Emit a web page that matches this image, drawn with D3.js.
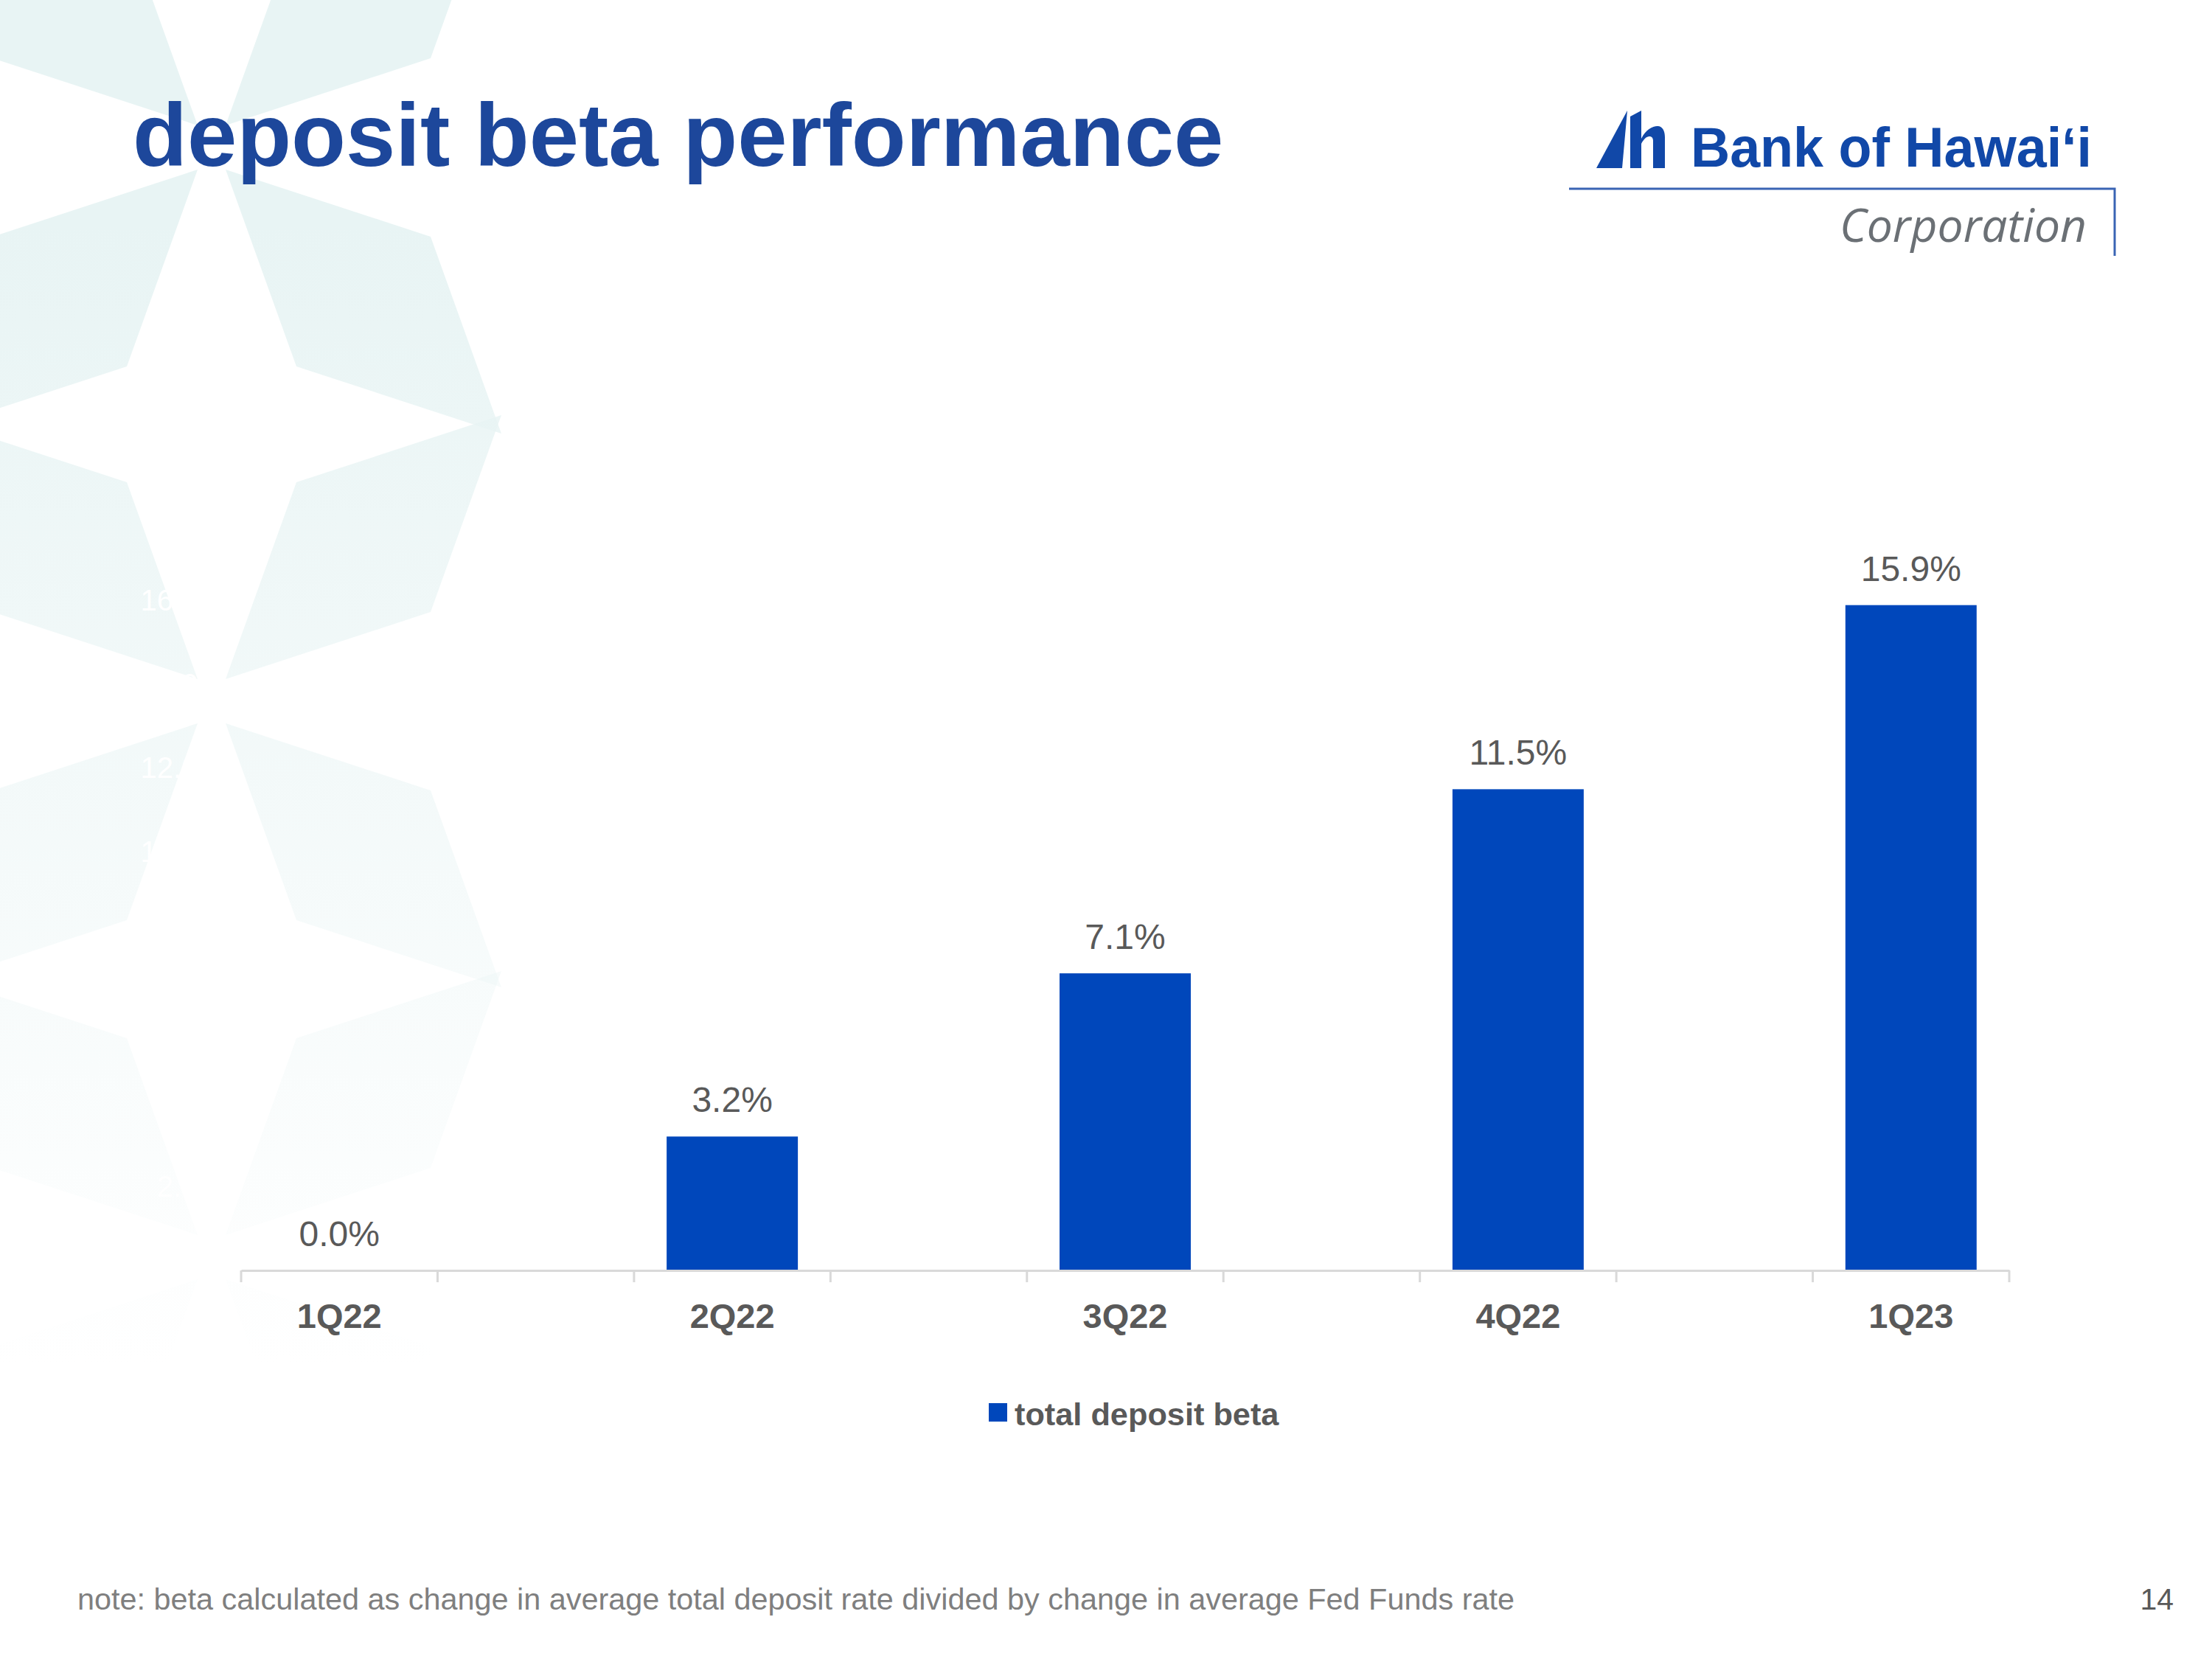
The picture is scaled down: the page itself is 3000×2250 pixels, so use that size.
<!DOCTYPE html>
<html>
<head>
<meta charset="utf-8">
<script src="https://cdn.jsdelivr.net/npm/d3@7"></script>
<style>
  body { margin: 0; background: #ffffff; }
  svg { display: block; font-family: "Liberation Sans", Arial, sans-serif; }
</style>
</head>
<body>
<div id="chart"></div>
<script>
// chart data
var categories = ["1Q22", "2Q22", "3Q22", "4Q22", "1Q23"];
var betaValues = [0.0, 3.2, 7.1, 11.5, 15.9];
var yTickValues = [0, 2, 4, 6, 8, 10, 12, 14, 16];
var seriesName = "total deposit beta";

var W = 3000, H = 2250;
var svg = d3.select("#chart").append("svg")
	.attr("width", W)
	.attr("height", H);

// faint star pattern in the background, fading towards the bottom
var defs = svg.append("defs");
var grad = defs.append("linearGradient")
	.attr("id", "fade")
	.attr("gradientUnits", "userSpaceOnUse")
	.attr("x1", 0).attr("y1", 300)
	.attr("x2", 0).attr("y2", 1850);
grad.append("stop").attr("offset", 0).attr("stop-color", "#e8f4f4").attr("stop-opacity", 1);
grad.append("stop").attr("offset", 1).attr("stop-color", "#e8f4f4").attr("stop-opacity", 0);

var starCenters = [[287, 200], [287, 951], [287, 1705]];
var petals = [];
starCenters.forEach(function(c) {
	[-1, 1].forEach(function(sx) {
		[-1, 1].forEach(function(sy) {
			var p0 = [c[0] + sx * 19, c[1] + sy * 30];
			petals.push([
				p0,
				[p0[0] + sx * 278, p0[1] + sy * 91],
				[p0[0] + sx * 374, p0[1] + sy * 358],
				[p0[0] + sx * 96, p0[1] + sy * 267]
			]);
		});
	});
});
svg.append("g").selectAll("polygon")
	.data(petals)
	.enter()
	.append("polygon")
	.attr("points", function(d) { return d.map(function(p) { return p.join(","); }).join(" "); })
	.attr("fill", "url(#fade)");

// title
svg.append("text")
	.attr("x", 180)
	.attr("y", 225)
	.attr("font-size", 121)
	.attr("font-weight", "bold")
	.attr("fill", "#1d479b")
	.text("deposit beta performance");

// logo
var logo = svg.append("g");
logo.append("path")
	.attr("d", "M2165,228 L2200,228 L2207,150 Z")
	.attr("fill", "#1148a8");
logo.append("path")
	.attr("d", "M2211,228 L2211,158 L2226,150 L2226,228 Z")
	.attr("fill", "#1148a8");
logo.append("path")
	.attr("d", "M2226,188 C2232,176 2241,171 2248,171 C2255,171 2258,178 2258,186 L2258,228 L2242,228 L2242,191 C2242,187 2240,185 2237,185 C2233,185 2229,189 2226,195 Z")
	.attr("fill", "#1148a8");
logo.append("text")
	.attr("x", 2293)
	.attr("y", 226)
	.attr("font-size", 76)
	.attr("font-weight", "bold")
	.attr("textLength", 544)
	.attr("lengthAdjust", "spacingAndGlyphs")
	.attr("fill", "#1148a8")
	.text("Bank of Hawai\u2018i");
logo.append("path")
	.attr("d", "M2128,256 L2868,256 L2868,347")
	.attr("fill", "none")
	.attr("stroke", "#3a64b4")
	.attr("stroke-width", 3);
logo.append("text")
	.attr("x", 2495)
	.attr("y", 328)
	.attr("font-family", "'Open Sans', sans-serif")
	.attr("font-style", "italic")
	.attr("font-size", 63)
	.attr("textLength", 335)
	.attr("lengthAdjust", "spacingAndGlyphs")
	.attr("fill", "#6b7075")
	.text("Corporation");

// scales
var axisY = 1723;
var x = d3.scaleBand()
	.domain(categories)
	.range([327, 2725])
	.paddingInner(0.5)
	.paddingOuter(0);
var y = d3.scaleLinear()
	.domain([0, 16])
	.range([axisY, 815]);

// hidden (white) value axis labels
var yAxis = svg.append("g")
	.attr("transform", "translate(327,0)")
	.call(d3.axisLeft(y).tickValues(yTickValues).tickSize(0).tickPadding(23)
		.tickFormat(function(d) { return d.toFixed(1) + "%"; }));
yAxis.select(".domain").remove();
yAxis.selectAll("text")
	.attr("font-size", 40)
	.attr("font-family", "'Liberation Sans', Arial, sans-serif")
	.attr("fill", "#ffffff");

// bars
var barW = x.bandwidth() * 0.668;
svg.append("g").selectAll("rect")
	.data(betaValues)
	.enter()
	.append("rect")
	.attr("x", function(d, i) { return x(categories[i]) + x.bandwidth() / 2 - barW / 2; })
	.attr("y", function(d) { return y(d); })
	.attr("width", barW)
	.attr("height", function(d) { return axisY - y(d); })
	.attr("fill", "#0047bb");

// value labels
svg.append("g").selectAll("text")
	.data(betaValues)
	.enter()
	.append("text")
	.attr("x", function(d, i) { return x(categories[i]) + x.bandwidth() / 2; })
	.attr("y", function(d) { return y(d) - 33; })
	.attr("text-anchor", "middle")
	.attr("font-size", 48)
	.attr("fill", "#595959")
	.text(function(d) { return d.toFixed(1) + "%"; });

// category axis
var xAxis = svg.append("g")
	.attr("transform", "translate(0," + axisY + ")")
	.call(d3.axisBottom(x).tickSizeInner(0).tickSizeOuter(0));
xAxis.select(".domain")
	.attr("stroke", "#d9d9d9")
	.attr("stroke-width", 3);
xAxis.selectAll(".tick line").remove();
xAxis.selectAll("text")
	.attr("dy", null)
	.attr("y", 78)
	.attr("font-size", 47)
	.attr("font-weight", "bold")
	.attr("font-family", "'Liberation Sans', Arial, sans-serif")
	.attr("fill", "#595959");

var edges = [];
categories.forEach(function(c) {
	edges.push(x(c));
	edges.push(x(c) + x.bandwidth());
});
xAxis.selectAll("line.edge")
	.data(edges)
	.enter()
	.append("line")
	.attr("class", "edge")
	.attr("x1", function(d) { return d; })
	.attr("x2", function(d) { return d; })
	.attr("y1", 0)
	.attr("y2", 16)
	.attr("stroke", "#d9d9d9")
	.attr("stroke-width", 3);

// legend
var legend = svg.append("g");
legend.append("rect")
	.attr("x", 1341)
	.attr("y", 1903)
	.attr("width", 25)
	.attr("height", 25)
	.attr("fill", "#0047bb");
legend.append("text")
	.attr("x", 1376)
	.attr("y", 1933)
	.attr("font-size", 43.3)
	.attr("font-weight", "bold")
	.attr("fill", "#595959")
	.text(seriesName);

// footnote and page number
svg.append("text")
	.attr("x", 105)
	.attr("y", 2183)
	.attr("font-size", 41.4)
	.attr("fill", "#7f7f7f")
	.text("note: beta calculated as change in average total deposit rate divided by change in average Fed Funds rate");
svg.append("text")
	.attr("x", 2948)
	.attr("y", 2183)
	.attr("text-anchor", "end")
	.attr("font-size", 41)
	.attr("fill", "#595959")
	.text("14");
</script>
</body>
</html>
